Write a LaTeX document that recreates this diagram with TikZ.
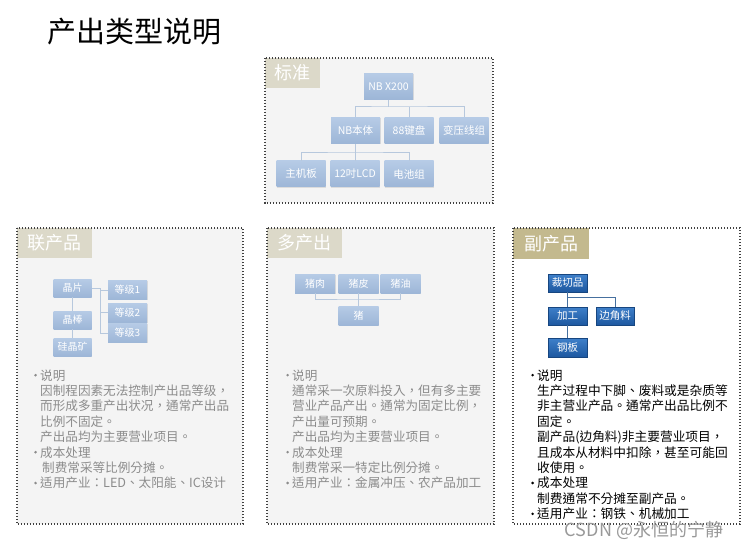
\documentclass[tikz,border=0pt]{standalone}
\usepackage{fontspec}
\setmainfont{Noto Sans CJK SC}
\newfontfamily\tcfont{Noto Sans CJK TC}
\usetikzlibrary{shadows}
\definecolor{panelbg}{HTML}{F4F4F4}
\definecolor{lbltan}{HTML}{DCD9C9}
\definecolor{lbldark}{HTML}{C3B98E}
\definecolor{ltop}{HTML}{B6CBE6}
\definecolor{lbot}{HTML}{9DB6D7}
\definecolor{dtop}{HTML}{3F80CA}
\definecolor{dbot}{HTML}{1D58A0}
\definecolor{lline}{HTML}{B7C8DD}
\definecolor{dline}{HTML}{46709F}
\definecolor{graytext}{HTML}{8C8C8C}
\newcommand{\bul}{\llap{\raisebox{3.4pt}{\tikz\fill (0,0) circle (1.4pt);}\hspace{3.2pt}}}
\tikzset{
  panel/.style={draw=black!75, line width=1.4pt, dash pattern=on 1.4pt off 1.6pt},
  lbltext/.style={text=white, font=\fontsize{18}{18}\selectfont, inner sep=0pt},
  lnode/.style={top color=ltop, bottom color=lbot, draw=none, text=white,
    minimum width=#1, inner sep=0pt,
    drop shadow={opacity=0.2, shadow xshift=0.8pt, shadow yshift=-0.8pt}},
  dnode/.style={top color=dtop, bottom color=dbot, draw=dbot!80!black, line width=0.3pt, text=white,
    minimum width=#1, inner sep=0pt,
    drop shadow={opacity=0.3, shadow xshift=0.8pt, shadow yshift=-0.8pt}},
  lconn/.style={draw=lline, line width=1pt},
  dconn/.style={draw=dline, line width=0.9pt},
  graytxt/.style={anchor=base west, inner sep=0pt, text=graytext, font=\tcfont\fontsize{12.6}{12.6}\selectfont},
  blacktxt/.style={anchor=base west, inner sep=0pt, text=black, font=\tcfont\fontsize{12.7}{12.7}\selectfont},
}
\begin{document}
\begin{tikzpicture}[x=1pt,y=-1pt]
\useasboundingbox (0,0) rectangle (747,548);
\fill[white] (0,0) rectangle (747,548);

% title
\node[inner sep=0pt] (title) at (134.5,32) {\fontsize{29}{29}\selectfont 产出类型说明};

% ---------- top panel ----------
\fill[panelbg] (265,58) rectangle (493,203);
\fill[lbltan] (265,58) rectangle (320,88);
\node[lbltext] (lblstd) at (292.5,73) {标准};
\draw[panel] (265,58) rectangle (493,203);

\begin{scope}[every node/.append style={minimum height=26pt, font=\fontsize{10.5}{10.5}\selectfont}]
\node[lnode=49pt] (nb) at (388.5,86.5) {NB X200};
\node[lnode=49pt] (body) at (355.5,130.5) {NB本体};
\node[lnode=49pt] (kb) at (409,130.5) {88键盘};
\node[lnode=49pt] (trans) at (464,130.5) {变压线组};
\node[lnode=49pt] (mb) at (301,174) {主机板};
\node[lnode=49pt] (lcd) at (355,174) {12吋LCD};
\node[lnode=49pt] (bat) at (409,174) {电池组};
\end{scope}
\coordinate (j1) at (388.5,107);
\coordinate (j2) at (355.5,153);
\draw[lconn] (nb.south) -- (j1);
\draw[lconn] (body.north) |- (j1) -| (trans.north);
\draw[lconn] (kb.north) -- (kb.north |- j1);
\draw[lconn] (body.south) -- (j2);
\draw[lconn] (mb.north) |- (j2) -| (bat.north);
\draw[lconn] (lcd.north) -- (lcd.north |- j2);

% ---------- left panel ----------
\fill[panelbg] (17,228) rectangle (243,524);
\fill[lbltan] (17,228) rectangle (92,258);
\node[lbltext] (lbljoint) at (54.5,243) {联产品};
\draw[panel] (17,228) rectangle (243,524);

\begin{scope}[every node/.append style={font=\fontsize{10}{10}\selectfont}]
\node[lnode=38pt, minimum height=18pt] (jp) at (72.5,288) {晶片};
\node[lnode=38pt, minimum height=18pt] (jb) at (72.5,320) {晶棒};
\node[lnode=38pt, minimum height=18pt] (jk) at (72.5,347) {硅晶矿};
\node[lnode=39pt, minimum height=19pt] (g1) at (127.5,290) {等级1};
\node[lnode=39pt, minimum height=19pt] (g2) at (127.5,312.5) {等级2};
\node[lnode=39pt, minimum height=19pt] (g3) at (127.5,333) {等级3};
\end{scope}
\coordinate (lj) at (100,288);
\draw[lconn] (jp.south) -- (jb.north);
\draw[lconn] (jb.south) -- (jk.north);
\draw[lconn] (jp.east) -- (lj) |- (g3.west);
\draw[lconn] (lj) |- (g1.west);
\draw[lconn] (lj |- g2.west) -- (g2.west);

\foreach \t [count=\i] in {{\bul 说明},{因制程因素无法控制产出品等级，},{而形成多重产出状况，通常产出品},{比例不固定。},{产出品均为主要营业项目。},{\bul 成本处理},{\hspace{2pt}制费常采等比例分摊。},{\bul 适用产业：LED、太阳能、IC设计}}
  \node[graytxt] (lt\i) at (40,{380+15.4*(\i-1)}) {\t};

% ---------- middle panel ----------
\fill[panelbg] (267,228) rectangle (494,524);
\fill[lbltan] (267,228) rectangle (342,258);
\node[lbltext] (lblmulti) at (304.5,243) {多产出};
\draw[panel] (267,228) rectangle (494,524);

\begin{scope}[every node/.append style={minimum height=19pt, font=\fontsize{10}{10}\selectfont}]
\node[lnode=40pt] (rou) at (315,283.5) {猪肉};
\node[lnode=40pt] (pi) at (358.5,283.5) {猪皮};
\node[lnode=40pt] (you) at (400.5,283.5) {猪油};
\node[lnode=40pt] (zhu) at (358.5,315.5) {猪};
\end{scope}
\coordinate (mj) at (358.5,299);
\draw[lconn] (zhu.north) -- (mj);
\draw[lconn] (rou.south) |- (mj) -| (you.south);
\draw[lconn] (pi.south) -- (mj);

\foreach \t [count=\i] in {{\bul 说明},{通常采一次原料投入，但有多主要},{营业产品产出。通常为固定比例，},{产出量可预期。},{产出品均为主要营业项目。},{\bul 成本处理},{制费常采一特定比例分摊。},{\bul 适用产业：金属冲压、农产品加工}}
  \node[graytxt] (mt\i) at (292,{380+15.4*(\i-1)}) {\t};

% ---------- right panel ----------
\fill[white] (513,228) rectangle (740,524);
\fill[lbldark] (513,228) rectangle (589,259);
\node[lbltext] (lblby) at (551,243.5) {副产品};
\draw[panel] (513,228) rectangle (740,524);

\begin{scope}[every node/.append style={font=\fontsize{10.5}{10.5}\selectfont}]
\node[dnode=39pt, minimum height=18pt] (cq) at (567.5,283) {裁切品};
\node[dnode=39pt, minimum height=18pt] (jg) at (567.5,316) {加工};
\node[dnode=38pt, minimum height=18pt] (bj) at (615,316) {边角料};
\node[dnode=39pt, minimum height=19pt] (gb) at (567.5,347.5) {钢板};
\end{scope}
\coordinate (rj) at (567.5,297);
\draw[dconn] (cq.south) -- (jg.north);
\draw[dconn] (rj) -| (bj.north);
\draw[dconn] (jg.south) -- (gb.north);

\foreach \t [count=\i] in {{\bul 说明},{生产过程中下脚、废料或是杂质等},{非主营业产品。通常产出品比例不},{固定。},{副产品(边角料)非主要营业项目，},{且成本从材料中扣除，甚至可能回},{收使用。},{\bul 成本处理},{制费通常不分摊至副产品。},{\bul 适用产业：钢铁、机械加工}}
  \node[blacktxt] (rt\i) at (537,{380+15.4*(\i-1)}) {\t};

% watermark
\node[inner sep=0pt, text=black!40, font=\fontsize{18}{18}\selectfont] (wm) at (644,530) {CSDN @永恒的宁静};
\end{tikzpicture}
\end{document}
